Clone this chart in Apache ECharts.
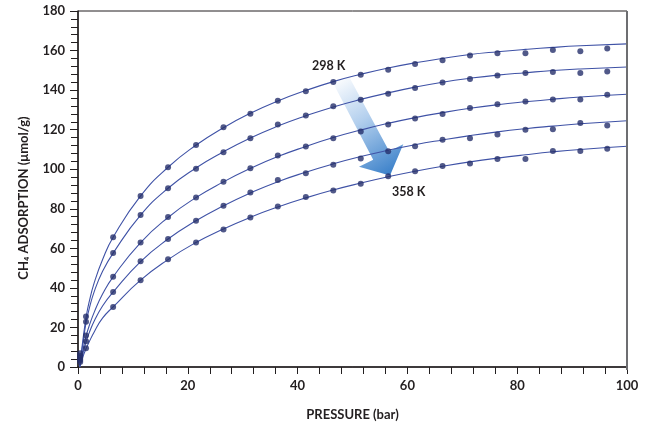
<!DOCTYPE html>
<html>
<head>
<meta charset="utf-8">
<script src="https://cdn.jsdelivr.net/npm/echarts@6/dist/echarts.min.js"></script>
<style>
  html, body { margin: 0; padding: 0; background: #ffffff; }
  #chart { width: 654px; height: 426px; }
</style>
</head>
<body>
<div id="chart"></div>
<script>
// Measured pressures (bar)
const pressure = [0.4, 1.46, 6.4, 11.4, 16.4, 21.5, 26.5, 31.4, 36.4, 41.5, 46.5, 51.5, 56.5, 61.4, 66.4, 71.4, 76.4, 81.5, 86.5, 91.5, 96.4];
// Measured CH4 adsorption (µmol/g)
const ads298 = [7, 25.5, 65.6, 86.5, 101, 112.2, 121.2, 128.1, 134.6, 139.4, 144.1, 147.8, 150.3, 153.2, 155.1, 157.5, 158.7, 158.7, 160.3, 159.7, 161.0];
const ads313 = [5.5, 22.9, 57.6, 76.8, 90.4, 100.2, 108.6, 115.7, 122.6, 127.1, 131.8, 135.1, 138.1, 141.1, 143.8, 145.6, 147.4, 148.6, 149.1, 148.6, 149.4];
const ads328 = [4.5, 15.9, 45.6, 62.9, 75.8, 85.7, 93.7, 100.5, 106.9, 111.5, 115.7, 119.1, 122.6, 125.6, 127.9, 130.9, 132.9, 134.3, 135.3, 135.3, 137.6];
const ads343 = [3.5, 13, 37.9, 53.5, 64.7, 74.0, 81.5, 88.2, 94.5, 98.0, 102.2, 105.4, 109.1, 111.6, 114.9, 115.6, 117.6, 119.9, 120.2, 123.4, 122.1];
const ads358 = [2.5, 9.5, 30.4, 43.9, 54.5, 63.0, 69.5, 75.6, 81.2, 86.0, 89.2, 92.7, 96.5, 99.0, 101.6, 102.9, 105.2, 105.2, 109.2, 109.2, 110.4];

// Fitted isotherm curves
const fitP   = [0.3, 1, 1.5, 2, 3, 4.5, 6.4, 11.4, 16.4, 21.4, 26.5, 31.4, 36.4, 41.5, 46.5, 51.5, 56.5, 61.4, 66.4, 71.4, 76.4, 81.5, 86.5, 91.5, 100];
const fit298 = [0, 16, 25.5, 32.5, 43, 54.5, 65.6, 86.5, 101, 112, 121, 128.3, 134.5, 139.8, 144.3, 148, 151.2, 153.8, 156, 158, 159.4, 160.6, 161.6, 162.4, 163.4];
const fit313 = [0, 14, 22.9, 29, 38.5, 48.5, 57.6, 76.8, 90.4, 100.5, 108.8, 115.8, 121.8, 127, 131.5, 135.3, 138.6, 141.5, 144, 146, 147.6, 148.8, 149.9, 150.7, 151.7];
const fit328 = [0, 10, 15.9, 20.5, 28, 37, 45.6, 62.9, 75.6, 85.5, 93.6, 100.4, 106.4, 111.5, 116, 119.8, 123.2, 126.1, 128.6, 130.8, 132.6, 134.1, 135.4, 136.5, 137.9];
const fit343 = [0, 8, 13, 17, 23.5, 31, 37.9, 53.3, 64.7, 73.8, 81.5, 88, 93.7, 98.5, 102.7, 106.4, 109.6, 112.4, 114.8, 117, 118.9, 120.5, 121.8, 123, 124.5];
const fit358 = [0, 6, 9.5, 12.5, 18, 24.8, 30.4, 43.9, 54.3, 62.8, 69.8, 75.7, 80.9, 85.5, 89.5, 93, 96.2, 99, 101.5, 103.7, 105.6, 107.3, 108.8, 110, 111.6];

const temps = ['298 K', '313 K', '328 K', '343 K', '358 K'];
const measured = [ads298, ads313, ads328, ads343, ads358];
const fits = [fit298, fit313, fit328, fit343, fit358];

const xTicks = [0, 20, 40, 60, 80, 100];
const yTicks = [0, 20, 40, 60, 80, 100, 120, 140, 160, 180];

const FONT = 'Lato, "Open Sans", sans-serif';
const TXT = '#231f20';
const LINE = '#3f52a6';
const DOT = '#262f6c';

const zip = (xs, ys) => xs.map((x, i) => [x, ys[i]]);

const series = [];
fits.forEach((f, i) => {
  series.push({
    name: temps[i] + ' fit',
    type: 'line',
    data: zip(fitP, f),
    smooth: 0.5,
    showSymbol: false,
    lineStyle: { color: LINE, width: 1.1 },
    z: 3,
    silent: true
  });
});
measured.forEach((m, i) => {
  series.push({
    name: temps[i],
    type: 'scatter',
    data: zip(pressure, m),
    symbol: 'circle',
    symbolSize: 6,
    itemStyle: { color: DOT },
    z: 4
  });
});

const chart = echarts.init(document.getElementById('chart'), null, { renderer: 'canvas' });
chart.setOption({
  animation: false,
  backgroundColor: '#ffffff',
  grid: {
    left: 78, right: 27, top: 11, bottom: 56,
    show: true, borderColor: TXT, borderWidth: 1, backgroundColor: 'transparent'
  },
  xAxis: {
    type: 'value', min: xTicks[0], max: xTicks[xTicks.length - 1], interval: 20,
    name: 'PRESSURE (bar)', nameLocation: 'middle', nameGap: 41,
    nameTextStyle: { fontFamily: FONT, fontWeight: 'bold', fontSize: 13, color: TXT },
    axisLine: { lineStyle: { color: TXT, width: 1.5 } },
    axisTick: { show: true, length: 7, lineStyle: { color: TXT, width: 1 } },
    minorTick: { show: true, splitNumber: 5, length: 7, lineStyle: { color: TXT, width: 1 } },
    axisLabel: { fontFamily: FONT, fontWeight: 'bold', fontSize: 13, color: TXT, margin: 12 },
    splitLine: { show: false }
  },
  yAxis: {
    type: 'value', min: yTicks[0], max: yTicks[yTicks.length - 1], interval: 20,
    name: 'CH\u2084 ADSORPTION (\u03bcmol/g)', nameLocation: 'middle', nameGap: 48,
    nameTextStyle: { fontFamily: FONT, fontWeight: 'bold', fontSize: 13, color: TXT, padding: [0, 18, 0, 0] },
    axisLine: { lineStyle: { color: TXT, width: 1.5 } },
    axisTick: { show: true, length: 8, lineStyle: { color: TXT, width: 1 } },
    minorTick: { show: true, splitNumber: 5, length: 7, lineStyle: { color: TXT, width: 1 } },
    axisLabel: { fontFamily: FONT, fontWeight: 'bold', fontSize: 13, color: TXT, margin: 13 },
    splitLine: { show: false }
  },
  graphic: [
    {
      type: 'polygon', z: 1, silent: true,
      shape: { points: [[331.5, 80], [349.5, 77.5], [389.2, 151.3], [403.3, 144.3], [390, 175.5], [359, 166.7], [373.2, 159.7]] },
      style: {
        fill: new echarts.graphic.LinearGradient(335, 78, 392, 172, [
          { offset: 0, color: 'rgba(255,255,255,1)' },
          { offset: 0.45, color: '#b4d0ee' },
          { offset: 1, color: '#3d82ca' }
        ], true)
      }
    },
    {
      type: 'line', z: 5, silent: true,
      shape: { x1: 627, y1: 11, x2: 627, y2: 370 },
      style: { stroke: '#6d6e71', lineWidth: 2 }
    },
    {
      type: 'text', left: 312, top: 59, z: 10,
      style: { text: '298 K', fontFamily: FONT, fontWeight: 'bold', fontSize: 12.5, fill: TXT }
    },
    {
      type: 'text', left: 392, top: 185, z: 10,
      style: { text: '358 K', fontFamily: FONT, fontWeight: 'bold', fontSize: 12.5, fill: TXT }
    }
  ],
  series: series
});
</script>
</body>
</html>
